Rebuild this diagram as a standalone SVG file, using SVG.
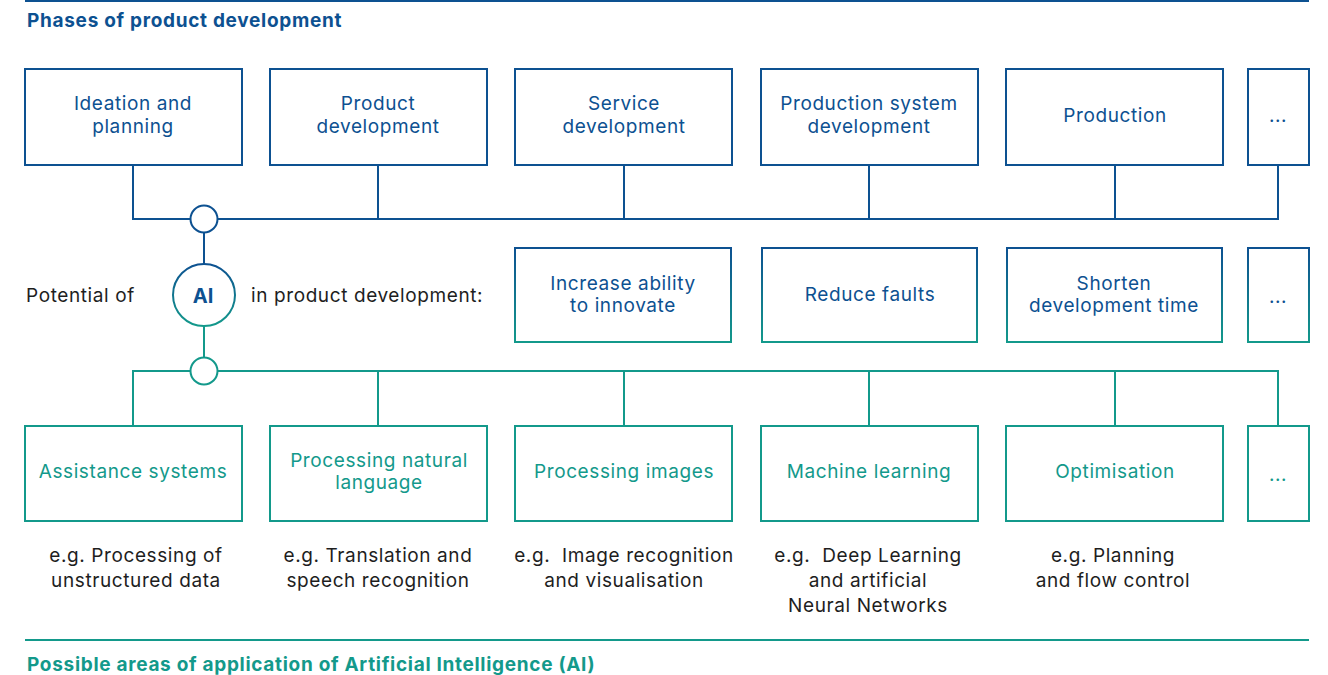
<svg xmlns="http://www.w3.org/2000/svg" width="1328" height="675" viewBox="0 0 1328 675">
<style>
text{font-family:Inter,"Liberation Sans",sans-serif;font-size:19px;letter-spacing:0.6px;text-anchor:middle;dominant-baseline:central}
.title{font-weight:700;font-size:19px;letter-spacing:0.7px;text-anchor:start}
.blue{fill:#0d5191}
.teal{fill:#13998b}
.dark{fill:#1e1e1e}
.pre{white-space:pre}
.bbox{fill:#fff;stroke:#0d5191;stroke-width:2}
.gbox{fill:#fff;stroke:url(#grad);stroke-width:2}
.tbox{fill:#fff;stroke:#13998b;stroke-width:2}
.bl{stroke:#0d5191;stroke-width:2;fill:none}
.tl{stroke:#13998b;stroke-width:2;fill:none}
</style>
<defs>
<linearGradient id="grad" x1="0" y1="0" x2="0" y2="1">
<stop offset="0" stop-color="#0d5191"/>
<stop offset="1" stop-color="#13998b"/>
</linearGradient>
<linearGradient id="gradc" gradientUnits="userSpaceOnUse" x1="0" y1="264" x2="0" y2="326">
<stop offset="0" stop-color="#0d5191"/>
<stop offset="1" stop-color="#13998b"/>
</linearGradient>
</defs>
<rect width="1328" height="675" fill="#fff"/>
<line x1="25" y1="1" x2="1309" y2="1" stroke="#0d5191" stroke-width="2"/>
<text class="title blue" x="27" y="20">Phases of product development</text>
<line x1="25" y1="640" x2="1309" y2="640" stroke="#13998b" stroke-width="2"/>
<text class="title teal" x="27" y="664">Possible areas of application of Artificial Intelligence (AI)</text>

<g id="connectors">
<path class="bl" d="M133 165V219H1278V165M378 165V219M624 165V219M869 165V219M1115 165V219"/>
<line class="bl" x1="204" y1="232" x2="204" y2="264"/>
<line class="tl" x1="204" y1="326" x2="204" y2="358"/>
<path class="tl" d="M133 426V371H1278V426M378 426V371M624 426V371M869 426V371M1115 426V371"/>
<circle cx="204" cy="219" r="13.5" fill="#fff" stroke="#0d5191" stroke-width="2"/>
<circle cx="204" cy="371" r="13.5" fill="#fff" stroke="#13998b" stroke-width="2"/>
</g>

<g id="phase1"><rect class="bbox" x="25" y="69" width="217" height="96"/><text class="blue" x="133" y="103">Ideation and</text><text class="blue" x="133" y="126">planning</text></g>
<g id="phase2"><rect class="bbox" x="270" y="69" width="217" height="96"/><text class="blue" x="378" y="103">Product</text><text class="blue" x="378" y="126">development</text></g>
<g id="phase3"><rect class="bbox" x="515" y="69" width="217" height="96"/><text class="blue" x="624" y="103">Service</text><text class="blue" x="624" y="126">development</text></g>
<g id="phase4"><rect class="bbox" x="761" y="69" width="217" height="96"/><text class="blue" x="869" y="103">Production system</text><text class="blue" x="869" y="126">development</text></g>
<g id="phase5"><rect class="bbox" x="1006" y="69" width="217" height="96"/><text class="blue" x="1115" y="115">Production</text></g>
<g id="phase6"><rect class="bbox" x="1248" y="69" width="61" height="96"/><text class="blue" x="1278" y="115">...</text></g>

<g id="ai">
<circle cx="204" cy="295" r="31" fill="#fff" stroke="url(#gradc)" stroke-width="2"/>
<text class="blue" x="203" y="296" style="font-weight:700;font-size:20px;letter-spacing:0">AI</text>
<text class="dark" x="26" y="295" style="text-anchor:start">Potential of</text>
<text class="dark" x="251" y="295" style="text-anchor:start">in product development:</text>
</g>

<g id="pot1"><rect class="gbox" x="515" y="248" width="216" height="94"/><text class="blue" x="623" y="283">Increase ability</text><text class="blue" x="623" y="305">to innovate</text></g>
<g id="pot2"><rect class="gbox" x="762" y="248" width="215" height="94"/><text class="blue" x="870" y="294">Reduce faults</text></g>
<g id="pot3"><rect class="gbox" x="1007" y="248" width="215" height="94"/><text class="blue" x="1114" y="283">Shorten</text><text class="blue" x="1114" y="305">development time</text></g>
<g id="pot4"><rect class="gbox" x="1248" y="248" width="61" height="94"/><text class="blue" x="1278" y="296">...</text></g>

<g id="app1"><rect class="tbox" x="25" y="426" width="217" height="95"/><text class="teal" x="133" y="471">Assistance systems</text></g>
<g id="app2"><rect class="tbox" x="270" y="426" width="217" height="95"/><text class="teal" x="379" y="460">Processing natural</text><text class="teal" x="379" y="482">language</text></g>
<g id="app3"><rect class="tbox" x="515" y="426" width="217" height="95"/><text class="teal" x="624" y="471">Processing images</text></g>
<g id="app4"><rect class="tbox" x="761" y="426" width="217" height="95"/><text class="teal" x="869" y="471">Machine learning</text></g>
<g id="app5"><rect class="tbox" x="1006" y="426" width="217" height="95"/><text class="teal" x="1115" y="471">Optimisation</text></g>
<g id="app6"><rect class="tbox" x="1248" y="426" width="61" height="95"/><text class="teal" x="1278" y="474">...</text></g>

<g id="examples">
<text class="dark" x="136" y="555">e.g. Processing of</text><text class="dark" x="136" y="580">unstructured data</text>
<text class="dark" x="378" y="555">e.g. Translation and</text><text class="dark" x="378" y="580">speech recognition</text>
<text class="dark pre" x="624" y="555">e.g.  Image recognition</text><text class="dark" x="624" y="580">and visualisation</text>
<text class="dark pre" x="868" y="555">e.g.  Deep Learning</text><text class="dark" x="868" y="580">and artificial</text><text class="dark" x="868" y="605">Neural Networks</text>
<text class="dark" x="1113" y="555">e.g. Planning</text><text class="dark" x="1113" y="580">and flow control</text>
</g>
</svg>
